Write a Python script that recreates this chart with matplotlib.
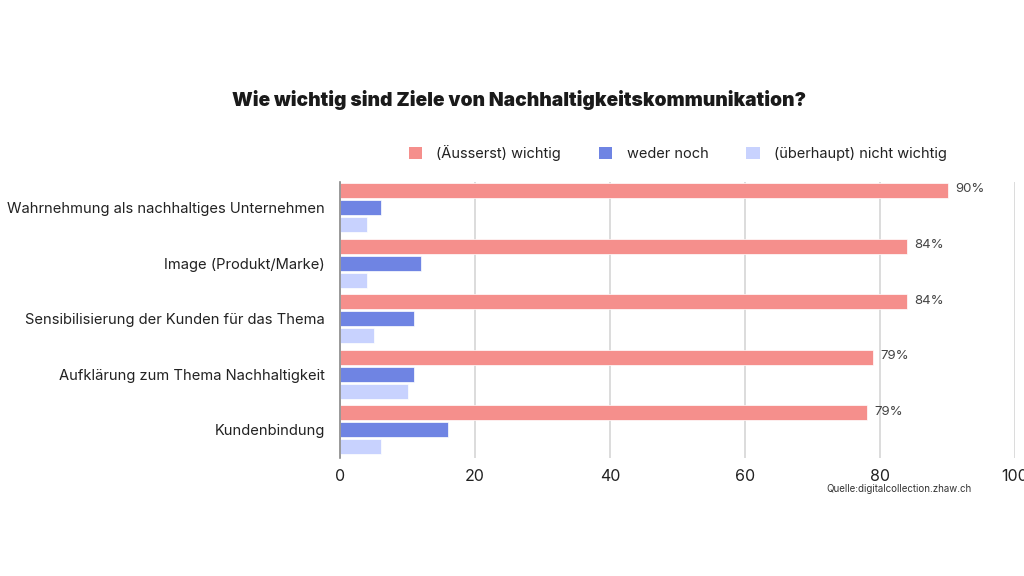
import numpy as np
from matplotlib import pyplot as plt
from matplotlib.patches import Patch

categories = ['Wahrnehmung als nachhaltiges Unternehmen', 'Image (Produkt/Marke)',
              'Sensibilisierung der Kunden für das Thema', 'Aufklärung zum Thema Nachhaltigkeit',
              'Kundenbindung']
wichtig = [90, 84, 84, 79, 78]
weder = [6, 12, 11, 11, 16]
nicht = [4, 4, 5, 10, 6]
value_labels = ['90%', '84%', '84%', '79%', '79%']
series_names = ['(Äusserst) wichtig', 'weder noch', '(überhaupt) nicht wichtig']
colors = ['#F58F8C', '#6F84E3', '#C8D2FE']

plt.rcParams['font.family'] = ['Inter', 'DejaVu Sans']

fig = plt.figure(figsize=(10.24, 5.76), dpi=100)
ax = fig.add_axes([340 / 1024, 1 - 458 / 576, 675 / 1024, 276 / 576])

y = np.arange(len(categories))
h = 0.27
step = 0.306
for k, (vals, col) in enumerate(zip([wichtig, weder, nicht], colors)):
    ax.barh(y + (k - 1) * step, vals, height=h, color=col, edgecolor='white', linewidth=0.5, zorder=3)

for i in range(len(categories)):
    ax.text(wichtig[i] + 1.1, y[i] - step - 0.02, value_labels[i], va='center', ha='left',
            fontsize=9.5, color='#444444', zorder=4)

ax.set_xlim(0, 100)
ax.set_ylim(4.51, -0.46)
ax.set_xticks([0, 20, 40, 60, 80, 100])
ax.set_xticklabels(['0', '20', '40', '60', '80', '100'])
ax.set_yticks(y)
ax.set_yticklabels(categories, fontsize=10.6, color='#222222')
ax.tick_params(axis='x', length=0, labelsize=11.5, pad=8, colors='#222222')
ax.tick_params(axis='y', length=0, pad=11)
ax.grid(axis='x', color='#d5d5d5', linewidth=1.2, zorder=0)
for s in ['top', 'right', 'bottom']:
    ax.spines[s].set_visible(False)
ax.spines['left'].set_color('#888888')
ax.spines['left'].set_linewidth(1.2)
ax.spines['left'].set_zorder(5)

fig.text(0.5065, 1 - 100 / 576, 'Wie wichtig sind Ziele von Nachhaltigkeitskommunikation?',
         ha='center', va='center', fontsize=13.8, fontweight='black', color='#1a1a1a')

handles = [Patch(facecolor=c, edgecolor='none') for c in colors]
fig.legend(handles, series_names, loc='center', bbox_to_anchor=(0.662, 1 - 153 / 576),
           ncol=3, frameon=False, fontsize=10.5, handlelength=0.9, handleheight=0.9,
           columnspacing=2.6, handletextpad=1.0, labelcolor='#222222')

fig.text(972 / 1024, 1 - 489 / 576, 'Quelle:digitalcollection.zhaw.ch', ha='right', va='center',
         fontsize=7, color='#333333')

plt.savefig('out.png', dpi=100)
